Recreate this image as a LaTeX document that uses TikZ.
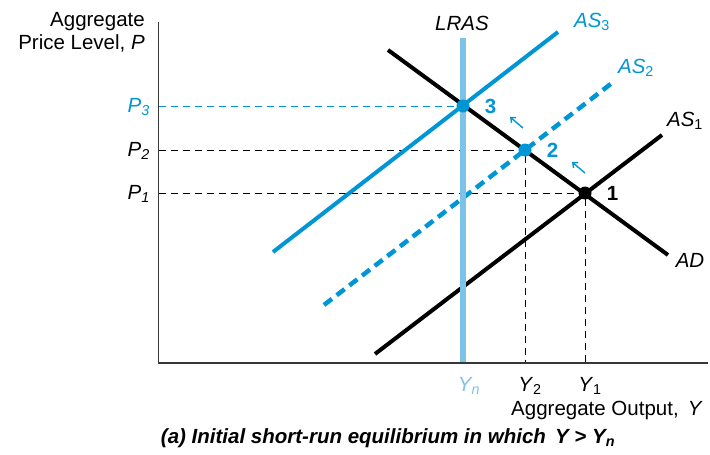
\documentclass[tikz,border=0pt]{standalone}
\usepackage{fontspec}
\setmainfont{Liberation Sans}
\usetikzlibrary{arrows.meta, positioning}
\definecolor{asblue}{RGB}{0,150,214}
\definecolor{lrblue}{RGB}{125,195,232}
\definecolor{axisgray}{RGB}{55,55,55}
\tikzset{
    % Axes and curves
    axis/.style   = {draw=axisgray, line width=1.3pt},
    curve/.style  = {line width=4pt},
    guide/.style  = {line width=0.9pt, dash pattern=on 7pt off 5pt},
    shiftarrow/.style = {asblue, line width=1.4pt, -{Straight Barb[length=4pt,width=7pt]}},
    % Points and labels
    eqdot/.style  = {circle, fill, inner sep=0pt, minimum size=13pt},
    lbl/.style    = {font=\fontsize{20.5}{23}\selectfont, inner sep=1pt},
    numlbl/.style = {lbl, font=\fontsize{20.5}{23}\selectfont\bfseries}
}

\begin{document}
\begin{tikzpicture}[x=1pt, y=-1pt]
    \useasboundingbox (0,0) rectangle (710,455);

    \coordinate (origin) at (158.5,363);
    \coordinate (ytop) at (158.5,22);
    \coordinate (xend) at (708,363);
    \coordinate (p1) at (585,193);
    \coordinate (p2) at (525,150);
    \coordinate (p3) at (463,106);

    % guide lines
    \draw [guide, asblue] (p3 -| origin) -- (p3);
    \draw [guide] (p2 -| origin) -- (p2) -- (p2 |- origin);
    \draw [guide] (p1 -| origin) -- (p1) -- (p1 |- origin);

    % curves
    \coordinate (as1a) at (375,354);  \coordinate (as1b) at (662,135);
    \coordinate (as2a) at (324,305);  \coordinate (as2b) at (612,83);
    \coordinate (as3a) at (273,252);  \coordinate (as3b) at (558,32);
    \coordinate (ada)  at (388,50);   \coordinate (adb)  at (668,255);
    \coordinate (lra)  at (463,38);

    \draw [curve] (ada) -- (adb);
    \draw [curve] (as1a) -- (as1b);
    \draw [curve, asblue, line width=4.5pt, dash pattern=on 10pt off 6pt] (as2a) -- (as2b);
    \draw [curve, lrblue, line width=6pt] (lra) -- (lra |- origin);
    \draw [curve, asblue] (as3a) -- (as3b);

    \draw [axis] (ytop) -- (origin) -- (xend);

    % equilibrium points
    \node (e1) [eqdot, black] at (p1) {};
    \node (e2) [eqdot, asblue] at (p2) {};
    \node (e3) [eqdot, asblue] at (p3) {};
    \node (n1) [numlbl, right=14pt of e1] {1};
    \node (n2) [numlbl, asblue, right=14pt of e2] {2};
    \node (n3) [numlbl, asblue, right=14pt of e3] {3};

    \coordinate (a1s) at (585,173);  \coordinate (a1e) at (572,162);
    \coordinate (a2s) at (523,128);  \coordinate (a2e) at (510,117);
    \draw [shiftarrow] (a1s) -- (a1e);
    \draw [shiftarrow] (a2s) -- (a2e);

    % curve labels
    \node (lras) [lbl] at (462,23) {\textit{LRAS}};
    \node (las3) [lbl, asblue] at (592,22) {\textit{AS}\textsubscript{3}};
    \node (las2) [lbl, asblue] at (636,68) {\textit{AS}\textsubscript{2}};
    \node (las1) [lbl] at (685,121) {\textit{AS}\textsubscript{1}};
    \node (lad)  [lbl] at (690,260) {\textit{AD}};

    % axis labels
    \node (ptitle) [lbl, align=right, anchor=north east] at (146,11) {Aggregate\\Price Level, \textit{P}};
    \node (lp3) [lbl, asblue, anchor=east] at (151,107) {\textit{P\textsubscript{3}}};
    \node (lp2) [lbl, anchor=east] at (151,151) {\textit{P\textsubscript{2}}};
    \node (lp1) [lbl, anchor=east] at (151,194) {\textit{P\textsubscript{1}}};
    \node (lyn) [lbl, lrblue] at (469,386) {\textit{Y\textsubscript{n}}};
    \node (ly2) [lbl] at (530,386) {\textit{Y}\textsubscript{2}};
    \node (ly1) [lbl] at (590,386) {\textit{Y}\textsubscript{1}};
    \node (ytitle) [lbl] at (607,410) {Aggregate Output,\, \textit{Y}};
    \node (caption) [lbl, font=\fontsize{20.5}{23}\selectfont\bfseries\itshape] at (388,438)
        {(a) Initial short-run equilibrium in which\, Y > Y\textsubscript{n}};
\end{tikzpicture}
\end{document}
